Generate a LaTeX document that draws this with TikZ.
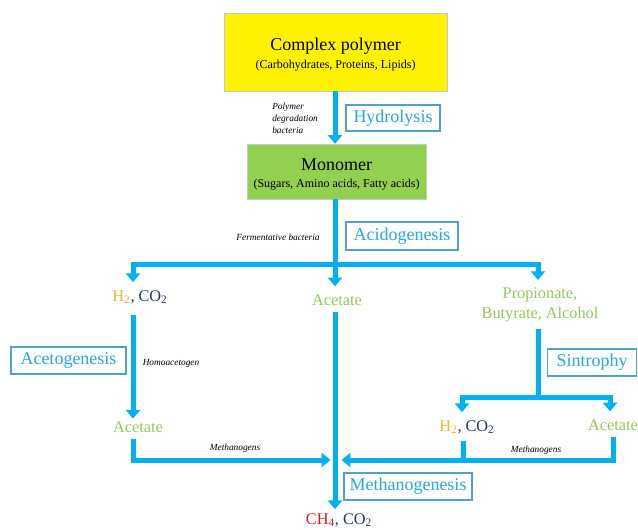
\documentclass[tikz,border=0pt]{standalone}
\usepackage{fontspec}
\setmainfont{Liberation Serif}
\usetikzlibrary{arrows.meta}

\definecolor{pipecol}{RGB}{0,176,240}
\definecolor{stagetext}{RGB}{38,168,224}
\definecolor{stageframe}{RGB}{84,160,200}
\definecolor{hcol}{RGB}{240,184,50}
\definecolor{ccol}{RGB}{31,56,100}
\definecolor{acol}{RGB}{150,200,90}
\definecolor{mcol}{RGB}{232,20,27}
\definecolor{monocol}{RGB}{146,208,80}

\tikzset{
  pipe/.style={draw=pipecol, line width=3.75pt},
  flow/.style={pipe, -{Triangle[width=10.5pt,length=6.5pt]}},
  stage/.style={draw=stageframe, line width=0.9pt, text=stagetext, inner sep=0pt,
    font=\fontsize{13.5}{15}\selectfont},
  chem/.style={font=\fontsize{12.2}{14.5}\selectfont, inner sep=2pt, align=center},
  note/.style={font=\fontsize{7}{9}\selectfont\itshape, inner sep=0pt},
  block/.style={draw=gray!45, line width=0.4pt},
}
\newcommand{\Htwo}{{\color{hcol}H\textsubscript{2}}\color{ccol}, CO\textsubscript{2}}

\begin{document}
\begin{tikzpicture}[x=0.75pt,y=0.75pt,yscale=-1,xscale=1]
\useasboundingbox (0,0) rectangle (638,530);

% Blocks
\node[block, fill=yellow, minimum width=167.25pt, minimum height=58.5pt] (poly) at (335.5,52) {};
\node[font=\fontsize{13.5}{16}\selectfont, inner sep=0pt] (polyT) at (335.5,46) {Complex polymer};
\node[font=\fontsize{9}{11}\selectfont, inner sep=0pt] (polyS) at (335.5,66) {(Carbohydrates, Proteins, Lipids)};
\node[block, fill=monocol, minimum width=134.25pt, minimum height=41.25pt] (mono) at (336.5,171.5) {};
\node[font=\fontsize{13.5}{16}\selectfont, inner sep=0pt] (monoT) at (336.5,165) {Monomer};
\node[font=\fontsize{9}{11}\selectfont, inner sep=0pt] (monoS) at (336.5,185) {(Sugars, Amino acids, Fatty acids)};

% Text Node
\node[chem] (h2a) at (140,297) {\Htwo};
\node[chem, text=acol] (acet1) at (337,300) {Acetate};
\node[chem, text=acol] (prop) at (540,305) {Propionate,\\Butyrate, Alcohol};
\node[chem, text=acol] (acet2) at (138,427) {Acetate};
\node[chem] (h2b) at (467,427) {\Htwo};
\node[chem, text=acol] (acet3) at (613,425) {Acetate};
\node[chem] (ch4) at (339,520) {{\color{mcol}CH\textsubscript{4}}\color{ccol}, CO\textsubscript{2}};

% Stage labels
\node[stage, minimum width=70.5pt, minimum height=19.5pt] (hydro) at (393,118) {Hydrolysis};
\node[stage, minimum width=84pt, minimum height=21pt] (acido) at (402,236) {Acidogenesis};
\node[stage, minimum width=86.25pt, minimum height=20.25pt] (aceto) at (68.5,360.5) {Acetogenesis};
\node[stage, minimum width=66.75pt, minimum height=20.25pt] (sintro) at (592,362.5) {Sintrophy};
\node[stage, minimum width=96pt, minimum height=20.25pt] (metha) at (408,486.5) {Methanogenesis};

% Bacteria notes
\node[note, align=left, anchor=west] (polyB) at (272,118) {Polymer\\degradation\\bacteria};
\node[note] (fermB) at (278,237) {Fermentative bacteria};
\node[note] (homoB) at (171,363) {Homoacetogen};
\node[note] (methB1) at (235,448) {Methanogens};
\node[note] (methB2) at (536,450) {Methanogens};

% Junctions
\coordinate (split) at (335,265);
\coordinate (splitL) at (133,265);
\coordinate (splitR) at (538,265);
\coordinate (splitS) at (538,397);
\coordinate (splitSL) at (462,397);
\coordinate (splitSR) at (610,397);
\coordinate (merge) at (335,460);
\coordinate (joinL) at (133,460);
\coordinate (joinH) at (463,460);
\coordinate (joinA) at (613,460);

%Straight Lines
\draw[flow] (poly.south -| split) -- (mono.north -| split);
\draw[pipe] (mono.south -| split) -- (split);
\draw[flow] (split) -- (splitL) -- ([yshift=-4pt]h2a.north -| splitL);
\draw[flow] (split) -- ([yshift=-4pt]acet1.north -| split);
\draw[flow] (split) -- (splitR) -- ([yshift=-4pt]prop.north -| splitR);
\draw[flow] ([yshift=6pt]h2a.south -| splitL) -- (acet2.north -| splitL);
\draw[flow] ([yshift=3pt]acet1.south -| split) -- ([yshift=-1pt]ch4.north -| split);
\draw[pipe] ([yshift=3pt]prop.south -| splitS) -- (splitS);
\draw[flow] (splitS) -- (splitSL) -- ([yshift=-4pt]h2b.north -| splitSL);
\draw[flow] (splitS) -- (splitSR) -- ([yshift=-4pt]acet3.north -| splitSR);
\draw[flow, shorten >=3.5pt] ([yshift=3pt]acet2.south -| joinL) -- (joinL) -- (merge);
\draw[pipe] ([yshift=3pt]h2b.south -| joinH) -- (joinH);
\draw[flow, shorten >=5pt] ([yshift=3pt]acet3.south -| joinA) -- (joinA) -- (merge);

\end{tikzpicture}
\end{document}
